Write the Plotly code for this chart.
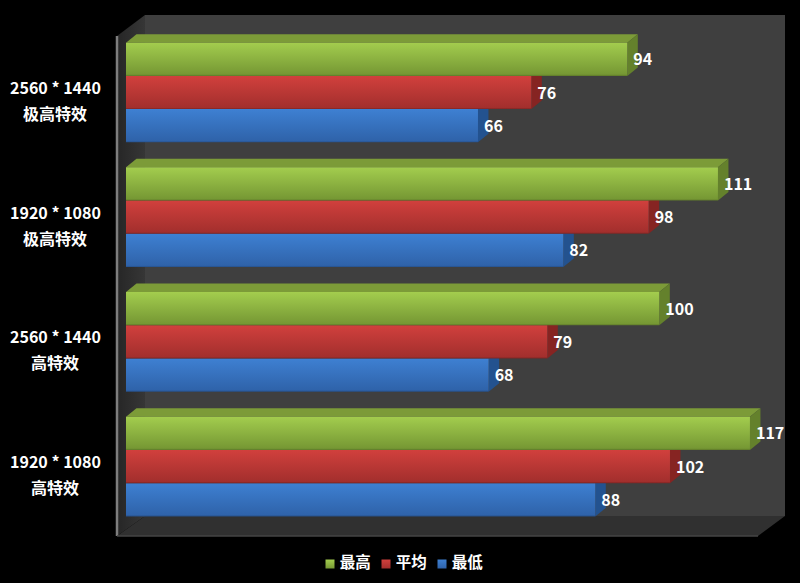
# GAME BENCHMARK - FPS BY RESOLUTION AND QUALITY PRESET
# ----------------------------------------------------------------------------------------------------
import plotly.graph_objects as go

# DATA
# ----------------------------------------------------------------------------------------------------
resolutions = ['2560 * 1440', '1920 * 1080', '2560 * 1440', '1920 * 1080']
presets = ['极高特效', '极高特效', '高特效', '高特效']
series_names = ['最高', '平均', '最低']
fps_max = [94, 111, 100, 117]
fps_avg = [76, 98, 79, 102]
fps_min = [66, 82, 68, 88]

# STYLE
# ----------------------------------------------------------------------------------------------------
FONT = 'Noto Sans CJK SC'
WIDTH, HEIGHT = 800, 583
X_ZERO_PX, PX_PER_UNIT = 126, 5.333
Y_FIRST_PX, PX_PER_GROUP = 92.5, 124.67
BAR_H = 0.8 / 3
DEPTH_X, DEPTH_Y = 10.5 / PX_PER_UNIT, 8.5 / PX_PER_GROUP
LABEL_PAD = 6 / PX_PER_UNIT
LABEL_DROP = 2 / PX_PER_GROUP

styles = [
    {'mid': '#8fb540', 'top': '#a3cd4e', 'bottom': '#769834', 'edge': '#5f7a2a', 'roof': '#7c9b38', 'side': '#64812c'},
    {'mid': '#ba3835', 'top': '#d1403d', 'bottom': '#a32f2d', 'edge': '#7e2523', 'roof': '#8f2a28', 'side': '#862422'},
    {'mid': '#3670bd', 'top': '#3e80d2', 'bottom': '#2f63aa', 'edge': '#26508a', 'roof': '#2a5a9c', 'side': '#23528f'},
]
legend_x_px = [330, 386, 442]


def px_x(px):
    return (px - X_ZERO_PX) / PX_PER_UNIT


def px_y(px):
    return (px - Y_FIRST_PX) / PX_PER_GROUP


def polygon(points, color=None, gradient=None):
    xs = [px_x(p[0]) for p in points] + [px_x(points[0][0])]
    ys = [px_y(p[1]) for p in points] + [px_y(points[0][1])]
    return poly_trace(xs, ys, color, gradient)


def poly_trace(xs, ys, color=None, gradient=None):
    trace = go.Scatter(x=xs, y=ys, mode='lines', fill='toself', line={'width': 0},
                       showlegend=False, hoverinfo='skip')
    if gradient:
        trace.fillgradient = gradient
    else:
        trace.fillcolor = color
    return trace


# FIGURE
# ----------------------------------------------------------------------------------------------------
fig = go.Figure()
positions = list(range(len(resolutions)))
all_series = [fps_max, fps_avg, fps_min]

for name, values, style in zip(series_names, all_series, styles):
    fig.add_trace(go.Bar(x=values, y=positions, name=name, orientation='h', showlegend=False,
                         marker={'color': style['mid'], 'line': {'width': 0}}))

# walls and floor
fig.add_trace(polygon([(145, 15), (785, 15), (785, 516), (145, 516)], color='#3f3f3f'))
fig.add_trace(polygon([(117, 536), (758, 536), (785, 516), (145, 516)], color='#303030'))
fig.add_trace(polygon([(117, 36), (145, 15), (145, 516), (117, 536)], gradient={
    'type': 'horizontal', 'start': px_x(117), 'stop': px_x(145),
    'colorscale': [[0, '#262626'], [1, '#363636']]}))
fig.add_trace(go.Scatter(x=[px_x(117), px_x(117)], y=[px_y(36), px_y(536)], mode='lines',
                         line={'color': '#7d7d7d', 'width': 2.5}, showlegend=False, hoverinfo='skip'))
fig.add_trace(go.Scatter(x=[px_x(117), px_x(758)], y=[px_y(536), px_y(536)], mode='lines',
                         line={'color': '#454545', 'width': 1.5}, showlegend=False, hoverinfo='skip'))

# bar faces, blue first so the bar above covers the roof of the one below
for s in [2, 1, 0]:
    style = styles[s]
    offset = (s - 1) * BAR_H
    for pos, value in zip(positions, all_series[s]):
        y_top = pos + offset - BAR_H / 2
        y_bot = pos + offset + BAR_H / 2
        fig.add_trace(poly_trace(
            [0, DEPTH_X, value + DEPTH_X, value, 0],
            [y_top, y_top - DEPTH_Y, y_top - DEPTH_Y, y_top, y_top], style['roof']))
        fig.add_trace(poly_trace(
            [value, value + DEPTH_X, value + DEPTH_X, value, value],
            [y_top, y_top - DEPTH_Y, y_bot - DEPTH_Y, y_bot, y_top], style['side']))
        fig.add_trace(poly_trace(
            [0, value, value, 0, 0],
            [y_top, y_top, y_bot, y_bot, y_top],
            gradient={'type': 'vertical', 'start': y_top, 'stop': y_bot,
                      'colorscale': [[0, style['top']], [0.95, style['bottom']], [1, style['edge']]]}))

# value labels
for s, values in enumerate(all_series):
    offset = (s - 1) * BAR_H
    fig.add_trace(go.Scatter(
        x=[v + LABEL_PAD for v in values], y=[pos + offset + LABEL_DROP for pos in positions], mode='text',
        text=[f'<b>{v}</b>' for v in values], textposition='middle right',
        textfont={'family': FONT, 'size': 16, 'color': '#ffffff'},
        showlegend=False, hoverinfo='skip'))

# category labels, two separate rows per group
for pos, resolution, preset in zip(positions, resolutions, presets):
    for text, row_px in [(resolution, -5.5), (preset, 20.5)]:
        fig.add_annotation(
            x=px_x(55), xref='x', xanchor='center',
            y=pos + row_px / PX_PER_GROUP, yref='y', yanchor='middle',
            text=f'<b>{text}</b>', showarrow=False,
            font={'family': FONT, 'size': 16, 'color': '#ffffff'})

# legend, the built-in one leaves too wide a gap between swatch and text
for name, style, x_px in zip(series_names, styles, legend_x_px):
    fig.add_trace(go.Scatter(
        x=[px_x(x_px)], y=[px_y(564)], mode='markers+text',
        marker={'symbol': 'square', 'size': 9, 'color': style['top'],
                'gradient': {'type': 'vertical', 'color': style['bottom']}},
        text=[f'<b>\u2009{name}</b>'], textposition='middle right',
        textfont={'family': FONT, 'size': 15.5, 'color': '#ffffff'},
        showlegend=False, hoverinfo='skip'))

fig.update_layout(
    width=WIDTH, height=HEIGHT,
    paper_bgcolor='#000000', plot_bgcolor='#000000',
    margin={'l': 0, 'r': 0, 't': 0, 'b': 0, 'pad': 0},
    barmode='group', bargap=0.2, bargroupgap=0,
    font={'family': FONT, 'color': '#ffffff'},
    showlegend=False,
)
fig.update_xaxes(range=[px_x(0), px_x(WIDTH)], showgrid=False, zeroline=False,
                 showticklabels=False, ticks='')
fig.update_yaxes(range=[px_y(HEIGHT), px_y(0)], showgrid=False, zeroline=False,
                 showticklabels=False, ticks='')

fig.write_html('out.html', config={'displayModeBar': False},
               post_script="document.body.style.margin='0';document.body.style.background='#000';")
